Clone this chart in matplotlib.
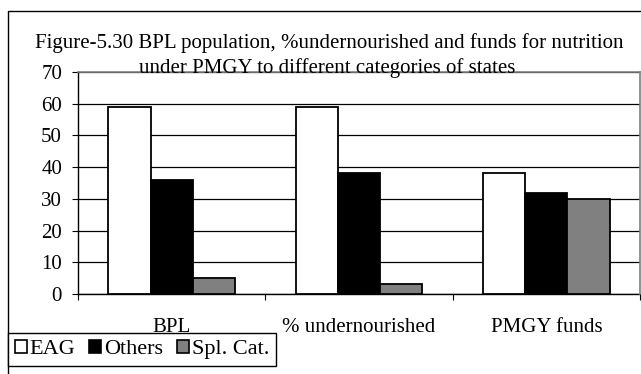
import matplotlib
matplotlib.use("Agg")
import matplotlib.pyplot as plt
from matplotlib.patches import Patch
from matplotlib.lines import Line2D
import numpy as np

plt.rcParams['font.family'] = 'Liberation Serif'

categories = ['BPL', '% undernourished', 'PMGY funds']
eag = [59, 59, 38]
others = [36, 38, 32]
spl_cat = [5, 3, 30]
series_names = ['EAG', 'Others', 'Spl. Cat.']
colors = ['white', 'black', '#808080']
yticks = [0, 10, 20, 30, 40, 50, 60, 70]

W, H = 641, 374
fig = plt.figure(figsize=(W / 100, H / 100), dpi=100)
ax = fig.add_axes([78 / W, 80 / H, 562 / W, 222 / H])

x = np.arange(len(categories))
bw = 0.225
for k, vals in enumerate([eag, others, spl_cat]):
    ax.bar(x + (k - 1) * bw, vals, bw, color=colors[k], edgecolor='black',
           linewidth=1.3, zorder=3)

ax.set_xlim(-0.5, 2.5)
ax.set_ylim(0, 70)
ax.set_yticks(yticks)
ax.tick_params(axis='y', direction='out', length=4.5, width=0.8, pad=7,
               labelsize=15)
ax.yaxis.grid(True, color='black', linewidth=0.9, zorder=0)

# category separators as major ticks, names as minor ticks
ax.set_xticks([-0.5, 0.5, 1.5, 2.5])
ax.set_xticklabels([])
ax.tick_params(axis='x', which='major', direction='out', length=4.5,
               width=0.8)
ax.set_xticks(x, categories, minor=True)
ax.tick_params(axis='x', which='minor', length=0, pad=17, labelsize=15)

for side in ['left', 'bottom']:
    ax.spines[side].set_color('black')
    ax.spines[side].set_linewidth(1)
for side in ['top', 'right']:
    ax.spines[side].set_color('#808080')
    ax.spines[side].set_linewidth(1.2)
    ax.spines[side].set_zorder(5)

fig.text(329 / W, 1 - 48 / H,
         'Figure-5.30 BPL population, %undernourished and funds for nutrition',
         ha='center', va='baseline', fontsize=15)
fig.text(327 / W, 1 - 73 / H,
         'under PMGY to different categories of states',
         ha='center', va='baseline', fontsize=15, zorder=1)

# outer chart border
fig.add_artist(Line2D([8 / W, 8 / W, 1], [0, 1 - 11 / H, 1 - 11 / H],
                      color='black', linewidth=1, transform=fig.transFigure))

handles = [Patch(facecolor=c, edgecolor='black', linewidth=1.2)
           for c in colors]
leg = fig.legend(handles, series_names, ncol=3, loc='upper left',
                 bbox_to_anchor=(8 / W, 1 - 333 / H), borderaxespad=0,
                 fontsize=16, frameon=True, fancybox=False,
                 edgecolor='black', framealpha=1, handlelength=0.55,
                 handleheight=0.55, handletextpad=0.12, columnspacing=0.62,
                 borderpad=0.3)
leg.get_frame().set_linewidth(1)

fig.savefig('out.png', dpi=100)
